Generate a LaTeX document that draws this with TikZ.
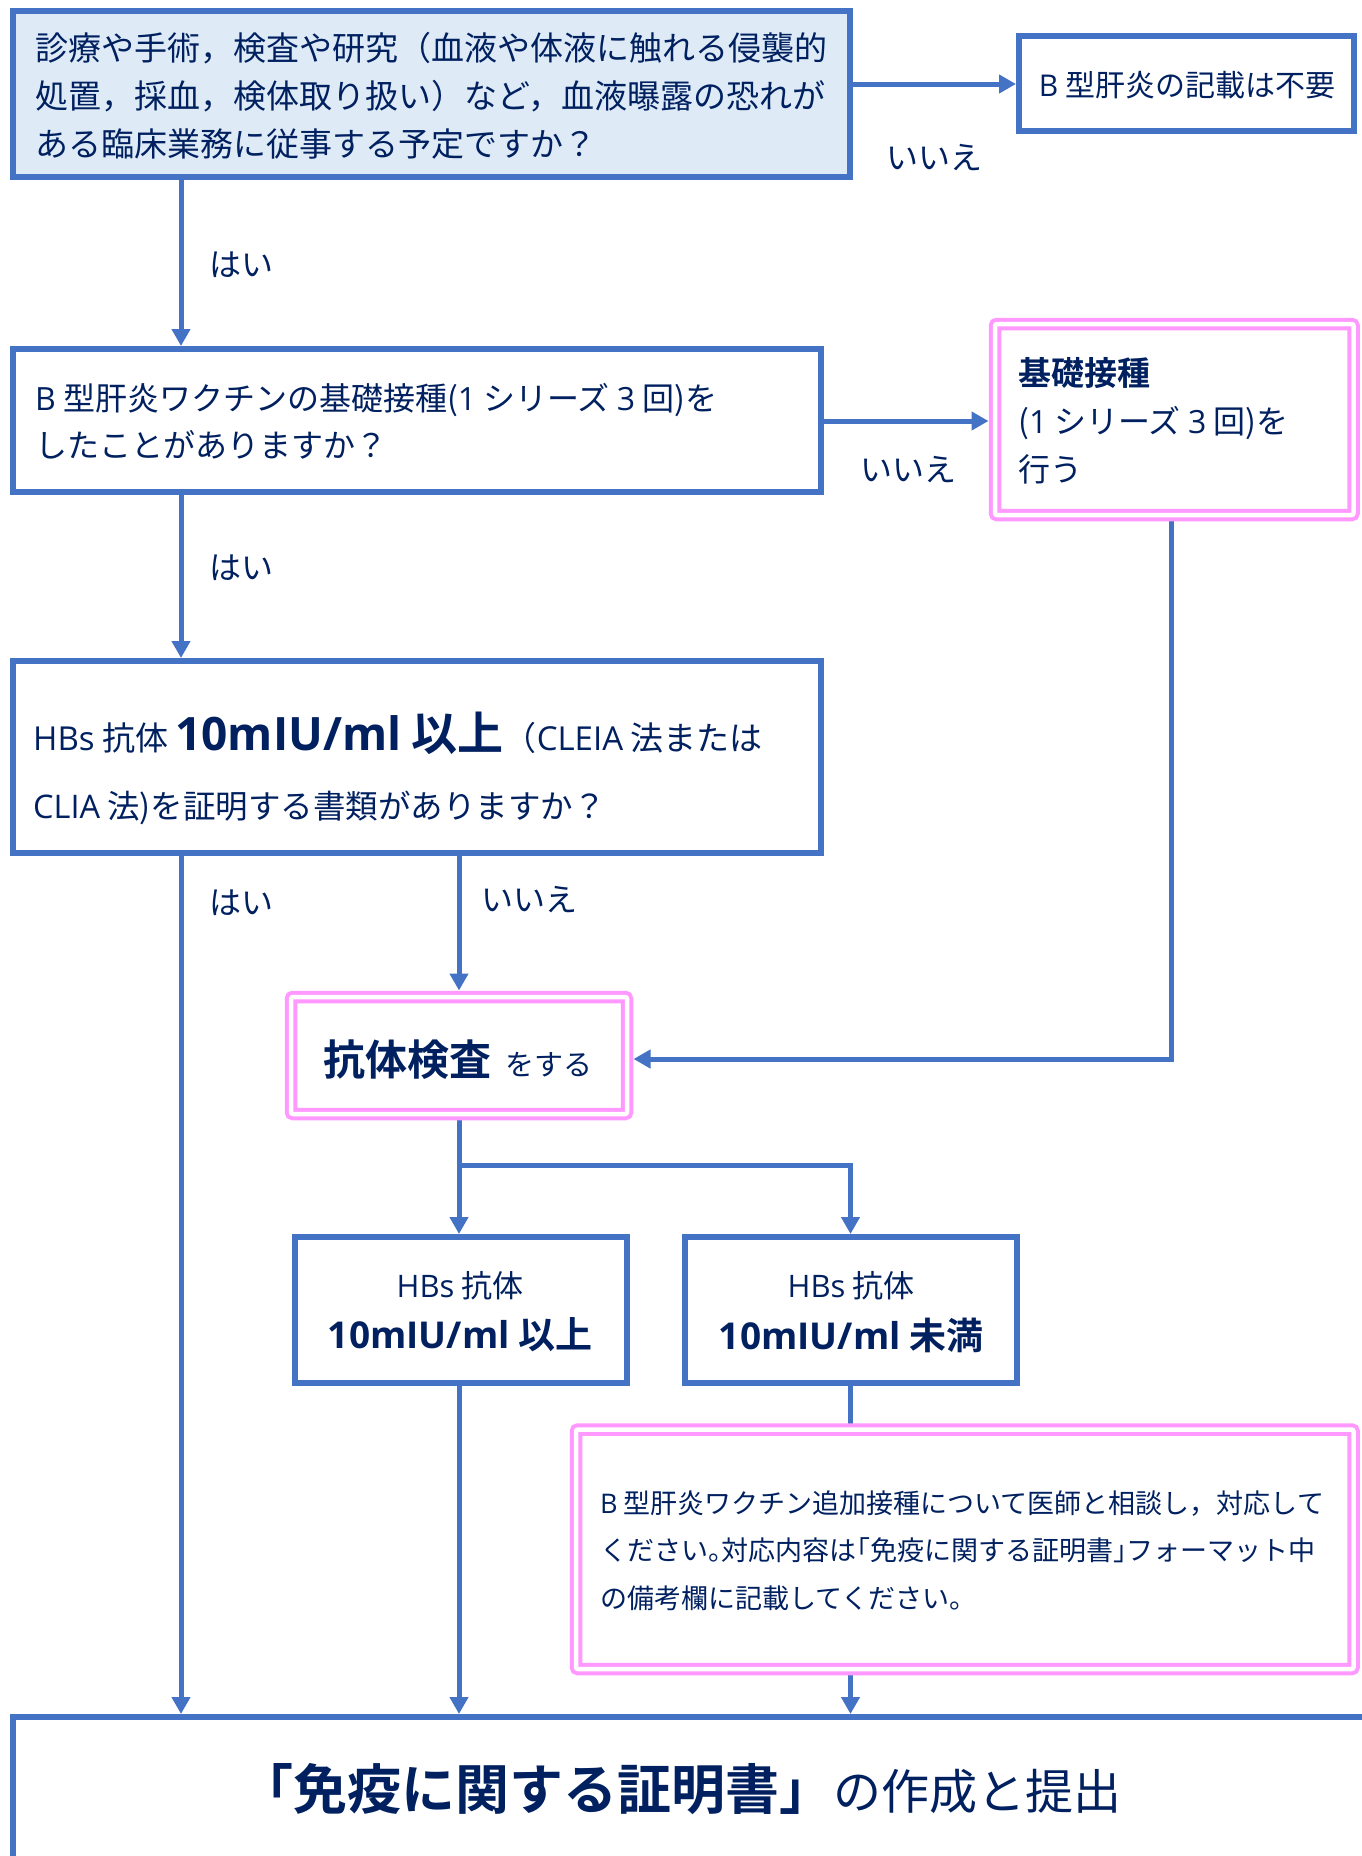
\documentclass[tikz,border=0pt]{standalone}
\usepackage{fontspec}
\setmainfont{Noto Sans CJK JP}[BoldFont={Noto Sans CJK JP Bold}]
\newfontfamily\lat{Open Sans}
\usetikzlibrary{arrows.meta,backgrounds}
\definecolor{lnblue}{HTML}{4472C4}
\definecolor{navy}{HTML}{002060}
\definecolor{pinkb}{HTML}{FF99FF}
\definecolor{fillb}{HTML}{DEEBF7}
\newcommand\fsz[2]{\fontsize{#1}{#2}\selectfont}
\newcommand\hw[1]{{\addfontfeature{CharacterWidth=AlternateHalf}#1}}
\begin{document}
\begin{tikzpicture}[x=1pt,y=-1pt,
  bx/.style={draw=lnblue, line width=6pt, fill=white, inner sep=0pt, outer sep=0pt, rectangle},
  pk/.style={draw=pinkb, line width=4pt, double=white, double distance=4.5pt, rounded corners=2pt, inner sep=0pt, outer sep=0pt, rectangle},
  con/.style={draw=lnblue, line width=5pt},
  arr/.style={con, -{Triangle[length=17pt,width=18pt]}, shorten >=3pt},
  parr/.style={con, -{Triangle[length=17pt,width=18pt]}, shorten >=6.5pt},
  lbl/.style={text=navy, font=\fsz{32}{32}, inner sep=0pt},
  txt/.style={text=navy, inner sep=0pt, align=left}]
\useasboundingbox (0,0) rectangle (1362,1856);
\clip (0,0) rectangle (1362,1856);
% boxes
\node[bx, fill=fillb, minimum width=837pt, minimum height=166pt] (q1) at (431.5,94) {};
\node[bx, minimum width=335pt, minimum height=95pt] (r1) at (1186.5,83.5) {};
\node[bx, minimum width=808pt, minimum height=143pt] (q2) at (417,420.5) {};
\node[pk, minimum width=358.5pt, minimum height=191pt] (p1) at (1174.25,419.5) {};
\node[bx, minimum width=808pt, minimum height=191.5pt] (q3) at (417,756.75) {};
\node[pk, minimum width=336pt, minimum height=117pt] (kt) at (459,1055.5) {};
\node[bx, minimum width=332pt, minimum height=145.5pt] (hi) at (460.5,1309.75) {};
\node[bx, minimum width=331.5pt, minimum height=145.5pt] (lo) at (850.75,1309.75) {};
\node[pk, minimum width=777.5pt, minimum height=239.5pt] (p2) at (964.75,1549.25) {};
\node[bx, minimum width=1400pt, minimum height=300pt, anchor=north west] (fin) at (12.5,1717) {};
% helper coordinates
\coordinate (cL) at (181,0);
\coordinate (cM) at (459,0);
\coordinate (cR) at (850.5,0);
\coordinate (cP) at (1171.5,0);
\coordinate (yk) at (0,1059);
\coordinate (ys) at (0,1165);
\coordinate (ya) at (0,84);
\coordinate (yb) at (0,421);
% connectors
\begin{scope}[on background layer]
\draw[arr] (q1.east |- ya) -- (r1.west |- ya);
\draw[arr] (cL |- q1.south) -- (cL |- q2.north);
\draw[parr] (q2.east |- yb) -- (p1.west |- yb);
\draw[arr] (cL |- q2.south) -- (cL |- q3.north);
\draw[arr] (cL |- q3.south) -- (cL |- fin.north);
\draw[parr] (cM |- q3.south) -- (cM |- kt.north);
\draw[parr] (cP |- p1.south) -- (cP |- yk) -- (kt.east |- yk);
\draw[arr] (cM |- kt.south) -- (cM |- hi.north);
\draw[arr] (cM |- ys) -| (cR |- lo.north);
\draw[con] (cR |- lo.south) -- (cR |- p2.north);
\draw[arr] (cR |- p2.south) -- (cR |- fin.north);
\draw[arr] (cM |- hi.south) -- (cM |- fin.north);
\end{scope}
% labels
\node[lbl] (l1) at (934,158) {いいえ};
\node[lbl] (l2) at (241,265) {はい};
\node[lbl] (l3) at (908,470) {いいえ};
\node[lbl] (l4) at (241,568) {はい};
\node[lbl] (l5) at (241,903) {はい};
\node[lbl] (l6) at (529,900) {いいえ};
% texts
\node[txt, anchor=west, font=\fsz{33}{48}] (t1) at (35,96) {診療や手術，検査や研究（血液や体液に触れる侵襲的\\処置，採血，検体取り扱い）など，血液曝露の恐れが\\ある臨床業務に従事する予定ですか？};
\node[txt, font=\fsz{30}{30}] (t2) at (1187,85) {{\lat B} 型肝炎の記載は不要};
\node[txt, anchor=west, font=\fsz{32}{47}] (t3) at (35,421.5) {{\lat B} 型肝炎ワクチンの基礎接種({\lat 1} シリーズ {\lat 3} 回)を\\したことがありますか？};
\node[txt, anchor=west, font=\fsz{32}{48}] (t4) at (1018,421) {{\bfseries\fsz{33}{48}基礎接種}\\({\lat 1} シリーズ {\lat 3} 回)を\\行う};
\node[txt, anchor=base west, font=\fsz{33}{33}] (t5a) at (33,750) {{\lat HBs} 抗体 {\bfseries\fsz{46}{46}{\lat 10mIU/ml} 以上}（{\lat CLEIA} 法または};
\node[txt, anchor=base west, font=\fsz{32.5}{32.5}] (t5b) at (33,818) {{\lat CLIA} 法)を証明する書類がありますか？};
\node[txt, font=\fsz{29}{29}] (t6) at (458,1060) {{\bfseries\fsz{42}{42}抗体検査}\hspace{14pt}をする};
\node[txt, font=\fsz{31}{31}] (t7a) at (460,1286) {{\lat HBs} 抗体};
\node[txt, font=\bfseries\fsz{37}{37}] (t7b) at (460,1335) {{\lat 10mIU/ml} 以上};
\node[txt, font=\fsz{31}{31}] (t8a) at (851,1286) {{\lat HBs} 抗体};
\node[txt, font=\bfseries\fsz{37}{37}] (t8b) at (851,1335) {{\lat 10mIU/ml} 未満};
\node[txt, anchor=west, font=\fsz{27}{47.5}] (t9) at (600,1550.5) {{\lat B} 型肝炎ワクチン追加接種について医師と相談し，対応して\\ください\hw{。}対応内容は\hw{「}免疫に関する証明書\hw{」}フォーマット中\\の備考欄に記載してください。};
\node[txt, anchor=base west, font=\fsz{48}{48}] (t10) at (239,1809) {{\bfseries\fsz{54}{54}「免疫に関する証明書」}の作成と提出};
\end{tikzpicture}
\end{document}
